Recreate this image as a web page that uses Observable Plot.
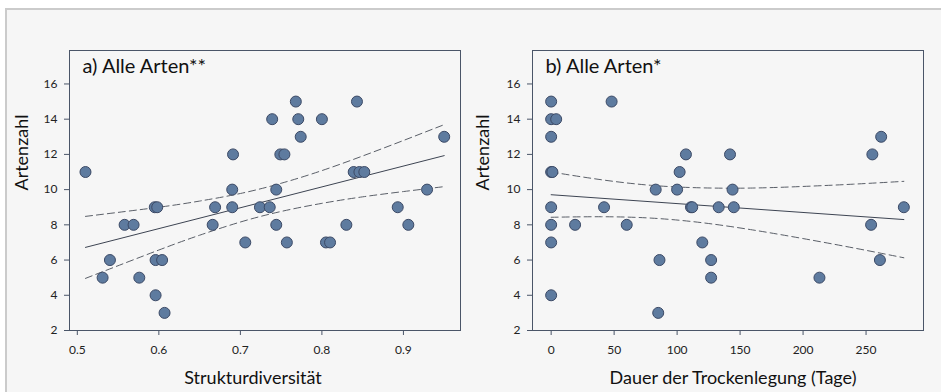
<!DOCTYPE html>
<html><head><meta charset="utf-8">
<script src="https://cdn.jsdelivr.net/npm/d3@7"></script>
<script src="https://cdn.jsdelivr.net/npm/@observablehq/plot@0.6"></script>
<style>
body{margin:0;background:#fff;}
#fig{position:relative;width:941px;height:392px;overflow:hidden;font-family:Lato,"Open Sans",sans-serif;}
#bg{position:absolute;left:5px;top:8px;width:940px;height:390px;background:#f6f6f6;border-left:2px solid #cbcbcb;border-top:2px solid #cbcbcb;}
.panel{position:absolute;top:0;}
</style></head><body>
<div id="fig"><div id="bg"></div><div id="a" class="panel" style="left:0"></div><div id="b" class="panel" style="left:470px"></div></div>
<script>
// Panel a) Strukturdiversität vs Artenzahl
const structX = [0.510,0.531,0.540,0.558,0.569,0.576,0.595,0.598,0.596,0.604,0.596,0.607,0.666,0.669,0.690,0.690,0.691,0.706,0.724,0.736,0.739,0.744,0.744,0.749,0.754,0.757,0.768,0.771,0.774,0.800,0.805,0.810,0.830,0.839,0.846,0.852,0.843,0.893,0.906,0.929,0.950];
const structY = [11,5,6,8,8,5,9,9,6,6,4,3,8,9,10,9,12,7,9,9,14,10,8,12,12,7,15,14,13,14,7,7,8,11,11,11,15,9,8,10,13];
const structFitX = [0.51,0.95];
const structFitY = [6.72,11.93];
const structCiX = [0.51,0.60,0.65,0.70,0.75,0.80,0.85,0.90,0.95];
const structCiUpper = [8.48,9.00,9.35,9.78,10.36,11.08,11.91,12.79,13.69];
const structCiLower = [4.96,6.57,7.41,8.16,8.76,9.22,9.59,9.89,10.17];
const structTicks = [0.5,0.6,0.7,0.8,0.9];

// Panel b) Dauer der Trockenlegung vs Artenzahl
const dryX = [0,0,4,0,0,1,0,0,0,0,19,42,48,60,83,86,85,100,102,107,111,112,120,127,127,133,142,144,145,213,254,255,262,261,280];
const dryY = [15,14,14,13,11,11,9,8,7,4,8,9,15,8,10,6,3,10,11,12,9,9,7,6,5,9,12,10,9,5,8,12,13,6,9];
const dryFitX = [0,280];
const dryFitY = [9.71,8.30];
const dryCiX = [0,40,80,120,160,200,240,280];
const dryCiUpper = [11.0,10.56,10.24,10.10,10.09,10.18,10.31,10.47];
const dryCiLower = [8.43,8.46,8.38,8.12,7.71,7.22,6.69,6.13];
const dryTicks = [0,50,100,150,200,250];

const yTicks = [2,4,6,8,10,12,14,16];
const yLabel = "Artenzahl";

const FRAME = "#4a5568";
const FONT = "Lato, 'Open Sans', sans-serif";

function panel(o) {
  const pts = o.xs.map((x, i) => ({x, y: o.ys[i]}));
  const fit = o.fitX.map((x, i) => ({x, y: o.fitY[i]}));
  const up = o.ciX.map((x, i) => ({x, y: o.ciU[i]}));
  const lo = o.ciX.map((x, i) => ({x, y: o.ciL[i]}));
  return Plot.plot({
    width: o.width, height: 392,
    marginLeft: o.ml, marginRight: o.mr, marginTop: 50, marginBottom: 62,
    style: {background: "transparent", fontFamily: FONT, color: "#222", overflow: "visible"},
    x: {domain: o.xDomain},
    y: {domain: [2, 17.9]},
    marks: [
      Plot.axisY({ticks: yTicks, tickSize: 5, tickPadding: 7, fontSize: 12, label: null, stroke: FRAME}),
      Plot.axisX({ticks: o.xTicks, tickSize: 5, tickPadding: 10, fontSize: 12, label: null, stroke: FRAME, tickFormat: o.fmt}),
      Plot.line(up, {x: "x", y: "y", curve: "natural", stroke: "#5a5f68", strokeWidth: 1, strokeDasharray: "7,4"}),
      Plot.line(lo, {x: "x", y: "y", curve: "natural", stroke: "#5a5f68", strokeWidth: 1, strokeDasharray: "7,4"}),
      Plot.line(fit, {x: "x", y: "y", stroke: "#3d4452", strokeWidth: 1}),
      Plot.dot(pts, {x: "x", y: "y", r: 5.5, fill: "#5e7b9f", stroke: "#3c4a66", strokeWidth: 1}),
      Plot.frame({stroke: FRAME, strokeWidth: 1}),
      Plot.text([o.title], {frameAnchor: "top-left", dx: 13, dy: 16, textAnchor: "start", lineAnchor: "middle", fontSize: 20, fill: "#111"}),
      Plot.text([o.xLabel], {frameAnchor: "bottom", dx: o.xLabelDx, dy: 48, lineAnchor: "middle", fontSize: 18, fill: "#111"}),
      Plot.text([yLabel], {frameAnchor: "left", dx: o.yLabelDx, rotate: -90, lineAnchor: "middle", fontSize: 18, fill: "#111"})
    ]
  });
}

document.getElementById("a").appendChild(panel({
  xs: structX, ys: structY, fitX: structFitX, fitY: structFitY,
  ciX: structCiX, ciU: structCiUpper, ciL: structCiLower,
  xDomain: [0.4904, 0.970], xTicks: structTicks, fmt: d3.format(".1f"),
  title: "a) Alle Arten**", xLabel: "Strukturdiversität", xLabelDx: -12, yLabelDx: -47,
  width: 470, ml: 69, mr: 10
}));
document.getElementById("b").appendChild(panel({
  xs: dryX, ys: dryY, fitX: dryFitX, fitY: dryFitY,
  ciX: dryCiX, ciU: dryCiUpper, ciL: dryCiLower,
  xDomain: [-14.8, 295.6], xTicks: dryTicks, fmt: d3.format("d"),
  title: "b) Alle Arten*", xLabel: "Dauer der Trockenlegung (Tage)", xLabelDx: 5, yLabelDx: -49,
  width: 471, ml: 62, mr: 18
}));
</script>
</body></html>
